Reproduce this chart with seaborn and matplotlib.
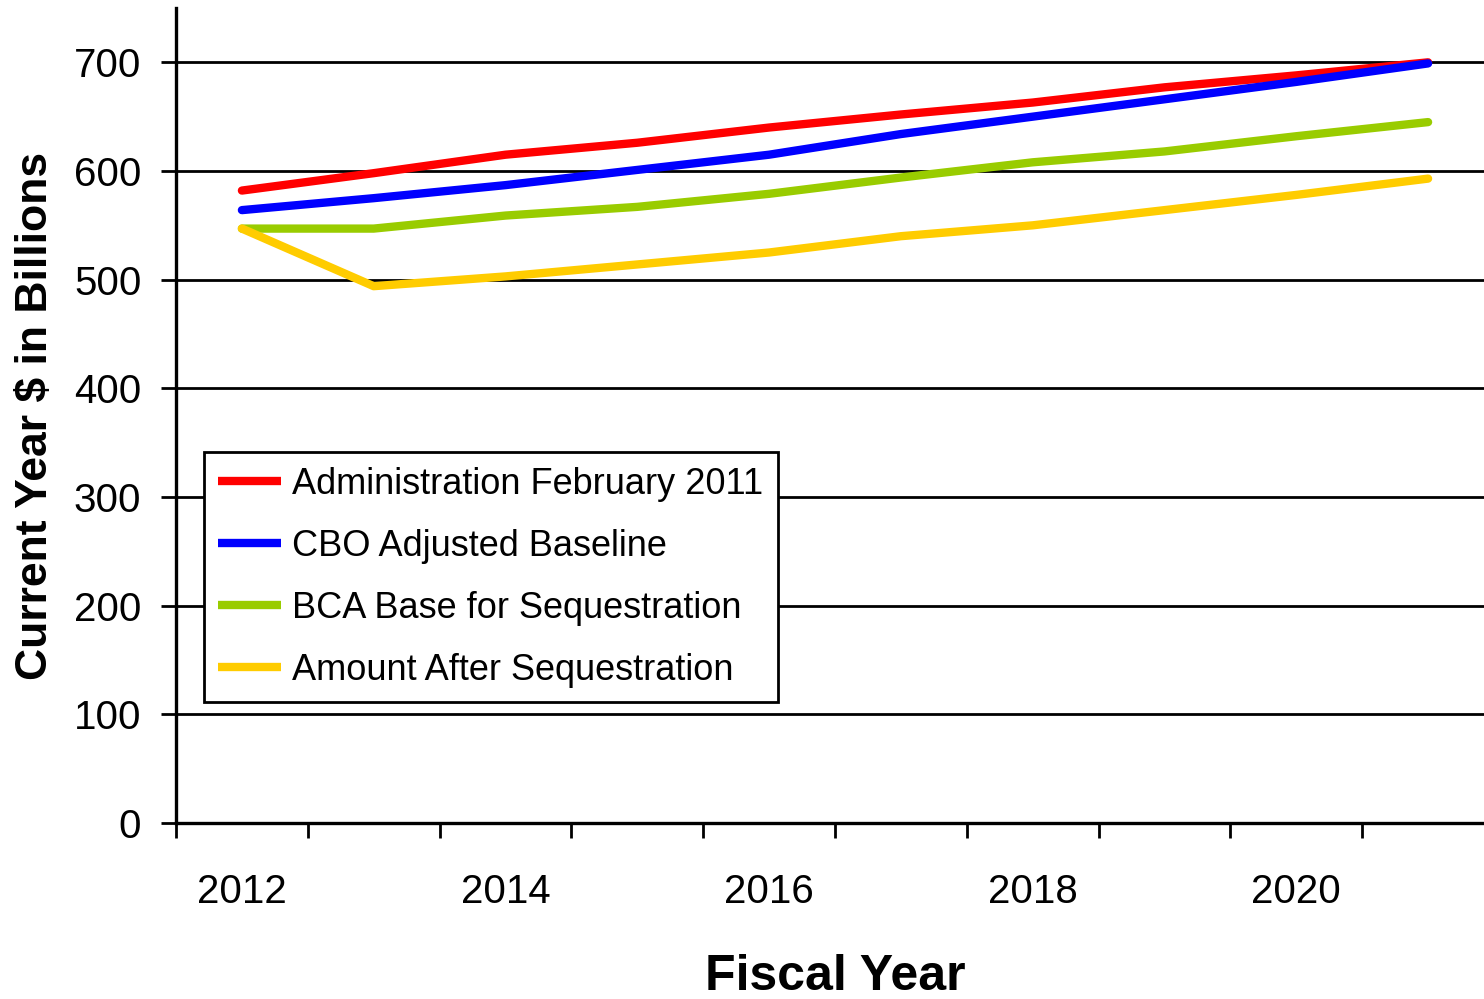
import matplotlib
matplotlib.use("Agg")
import matplotlib.pyplot as plt
import numpy as np
import pandas as pd
import seaborn as sns

years = [2012, 2013, 2014, 2015, 2016, 2017, 2018, 2019, 2020, 2021]
series_names = [
    "Administration February 2011",
    "CBO Adjusted Baseline",
    "BCA Base for Sequestration",
    "Amount After Sequestration",
]
admin_feb_2011 = [582, 598, 615, 626, 640, 652, 663, 677, 688, 700]
cbo_baseline = [564, 575, 587, 601, 615, 634, 650, 666, 682, 699]
bca_base = [547, 547, 559, 567, 579, 594, 608, 618, 632, 645]
after_sequestration = [547, 494, 503, 514, 525, 540, 550, 564, 578, 593]
colors = ["#FF0000", "#0000FF", "#99CC00", "#FFCC00"]

sns.set_style("white")
plt.rcParams["font.family"] = ["Liberation Sans", "DejaVu Sans"]
plt.rcParams["text.color"] = "black"
plt.rcParams["axes.labelcolor"] = "black"

frames = []
for name, vals in zip(series_names, [admin_feb_2011, cbo_baseline, bca_base, after_sequestration]):
    frames.append(pd.DataFrame({"idx": np.arange(len(years)), "value": vals, "series": name}))
df = pd.concat(frames, ignore_index=True)

fig = plt.figure(figsize=(14.84, 9.99), dpi=100)
ax = fig.add_axes([176 / 1484, 176 / 999, 1318 / 1484, 815 / 999])

sns.lineplot(data=df, x="idx", y="value", hue="series", hue_order=series_names,
             palette=colors, linewidth=6, ax=ax, legend=True)

ax.set_xlim(-0.5, len(years) - 0.5)
ax.set_ylim(0, 750)
ax.set_yticks(range(0, 701, 100))
ax.yaxis.grid(True, color="black", linewidth=2)
ax.set_axisbelow(True)

ax.set_xticks(np.arange(0, len(years), 2))
ax.set_xticklabels([str(y) for y in years[::2]])
ax.set_xticks(np.arange(-0.5, len(years), 1), minor=True)
ax.tick_params(axis="x", which="both", bottom=True)
ax.tick_params(axis="x", which="major", length=0, pad=36, labelsize=29)
ax.tick_params(axis="x", which="minor", length=11, width=2, direction="out", color="black")
ax.tick_params(axis="y", left=True, length=11, width=2, direction="out", color="black",
               pad=14, labelsize=29)
ax.tick_params(labelcolor="black")

for side in ["top", "right"]:
    ax.spines[side].set_visible(False)
for side in ["left", "bottom"]:
    ax.spines[side].set_color("black")
    ax.spines[side].set_linewidth(2.4)

ax.set_xlabel("Fiscal Year", fontsize=36, fontweight="bold", labelpad=31, color="black")
ax.set_ylabel("Current Year $ in Billions", fontsize=32, fontweight="bold", labelpad=13,
              color="black")

leg = ax.legend(loc="upper left", bbox_to_anchor=(0.021, 0.455), borderaxespad=0,
                fontsize=26, frameon=True, fancybox=False, framealpha=1,
                handlelength=1.75, handletextpad=0.3, labelspacing=0.75, borderpad=0.4)
leg.get_frame().set_edgecolor("black")
leg.get_frame().set_linewidth(2)
for text in leg.get_texts():
    text.set_color("black")
for line in leg.get_lines():
    line.set_linewidth(6)
    line.set_solid_capstyle("butt")

fig.savefig("out.png", dpi=100)
